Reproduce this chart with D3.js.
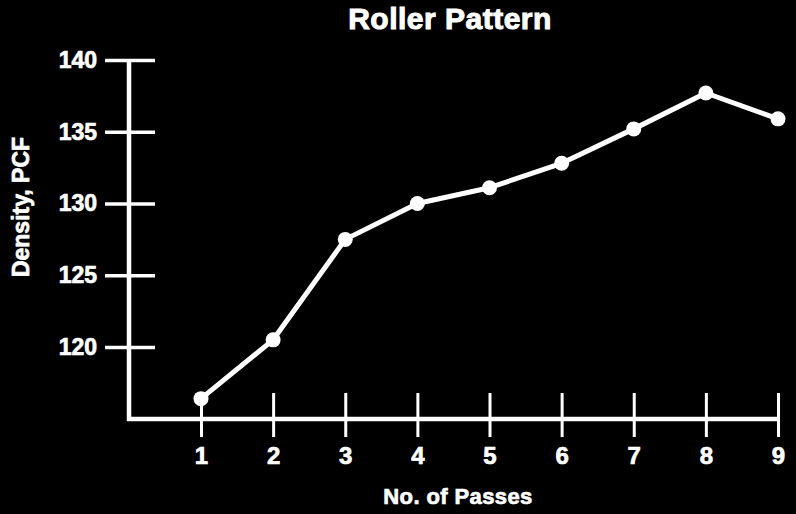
<!DOCTYPE html>
<html>
<head>
<meta charset="utf-8">
<script src="https://cdn.jsdelivr.net/npm/d3@7"></script>
<style>
  html, body { margin: 0; padding: 0; background: #000; }
  svg { display: block; }
  text { font-family: "Liberation Sans", Arial, sans-serif; font-weight: bold; fill: #fff; stroke: #fff; stroke-width: 0.7px; }
</style>
</head>
<body>
<div class="roller-figure"></div>
<script>
// data
let passes = [1, 2, 3, 4, 5, 6, 7, 8, 9];
let density = [116.4, 120.5, 127.5, 130.0, 131.1, 132.8, 135.2, 137.7, 135.9];
let yTicks = [120, 125, 130, 135, 140];

let width = 796, height = 514;
let axisX0 = 129, axisY0 = 419;

let svg = d3.select(".roller-figure")
    .append("svg")
    .attr("width", width)
    .attr("height", height);

svg.append("rect")
    .attr("width", width)
    .attr("height", height)
    .attr("fill", "#000");

// scales
let x = d3.scaleLinear()
    .domain([1, 9])
    .range([201, 778]);

let y = d3.scaleLinear()
    .domain([120, 140])
    .range([347, 60]);

// title
svg.append("text")
    .attr("x", 450)
    .attr("y", 29)
    .attr("text-anchor", "middle")
    .attr("font-size", 30)
    .style("letter-spacing", "0.5px")
    .style("stroke-width", "1px")
    .text("Roller Pattern");

// y axis
let gy = svg.append("g")
    .attr("transform", "translate(" + axisX0 + ",0)")
    .call(d3.axisLeft(y).tickValues(yTicks).tickSize(24).tickPadding(8));

gy.select(".domain").remove();
gy.selectAll(".tick line")
    .attr("x1", 26)
    .attr("x2", -24)
    .attr("stroke", "#fff")
    .attr("stroke-width", 3.5);
gy.selectAll(".tick text")
    .attr("font-size", 23)
    .attr("font-family", "Liberation Sans, Arial, sans-serif")
    .attr("fill", "#fff");

svg.append("line")
    .attr("x1", axisX0).attr("x2", axisX0)
    .attr("y1", y(140)).attr("y2", axisY0 + 2)
    .attr("stroke", "#fff")
    .attr("stroke-width", 4.5);

// x axis
let gx = svg.append("g")
    .attr("transform", "translate(0," + axisY0 + ")")
    .call(d3.axisBottom(x).tickValues(passes).tickFormat(d3.format("d")).tickSize(18).tickPadding(10));

gx.select(".domain").remove();
gx.selectAll(".tick line")
    .attr("y1", -26)
    .attr("y2", 18)
    .attr("stroke", "#fff")
    .attr("stroke-width", 3);
gx.selectAll(".tick text")
    .attr("font-size", 24)
    .attr("font-family", "Liberation Sans, Arial, sans-serif")
    .attr("fill", "#fff");

svg.append("line")
    .attr("x1", axisX0 - 2).attr("x2", x(9))
    .attr("y1", axisY0).attr("y2", axisY0)
    .attr("stroke", "#fff")
    .attr("stroke-width", 4.5);

// axis titles
svg.append("text")
    .attr("transform", "translate(29,207) rotate(-90)")
    .attr("text-anchor", "middle")
    .attr("font-size", 23)
    .text("Density, PCF");

svg.append("text")
    .attr("x", 458)
    .attr("y", 504)
    .attr("text-anchor", "middle")
    .attr("font-size", 22)
    .style("letter-spacing", "0.4px")
    .text("No. of Passes");

// line + markers
let pts = passes.map(function(p, i) { return {pass: p, value: density[i]}; });

let line = d3.line()
    .x(function(d) { return x(d.pass); })
    .y(function(d) { return y(d.value); });

svg.append("path")
    .datum(pts)
    .attr("d", line)
    .attr("fill", "none")
    .attr("stroke", "#fff")
    .attr("stroke-width", 5)
    .attr("stroke-linejoin", "round");

svg.selectAll(".pt")
    .data(pts)
    .enter()
    .append("circle")
    .attr("class", "pt")
    .attr("cx", function(d) { return x(d.pass); })
    .attr("cy", function(d) { return y(d.value); })
    .attr("r", 7.5)
    .attr("fill", "#fff");
</script>
</body>
</html>
